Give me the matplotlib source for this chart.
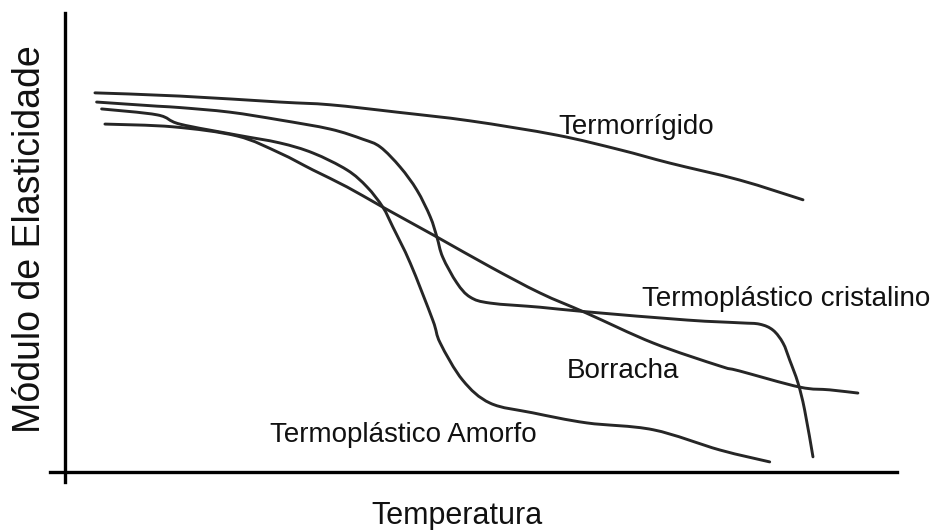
import matplotlib
matplotlib.use("Agg")
import matplotlib.pyplot as plt
from matplotlib.path import Path
from matplotlib.patches import PathPatch
import numpy as np

plt.rcParams['font.family'] = ['Liberation Sans', 'DejaVu Sans']

# Arbitrary units (0-100) for temperature (x) and modulus (y)
termorrigido_x = [3.6, 13.8, 25.8, 31.9, 39.9, 48.7, 59.1, 66.7, 72.7, 81.1, 88.7]
termorrigido_y = [82.6, 81.9, 80.6, 80.0, 78.4, 76.5, 73.4, 70.2, 67.3, 63.6, 59.3]

cristalino_x = [3.8, 11.1, 13.8, 19.8, 25.8, 31.9, 35.8, 37.9, 40.3, 42.3, 43.9, 44.7, 45.4,
                47.1, 48.7, 51.1, 57.1, 62.7, 74.8, 81.1, 83.5, 85.1, 86.3, 87.1, 88.1, 88.9, 89.9]
cristalino_y = [80.6, 79.7, 79.4, 78.4, 76.7, 74.7, 72.5, 70.8, 66.4, 61.4, 55.6, 51.2, 46.8,
                41.2, 38.1, 36.8, 35.9, 34.9, 33.1, 32.5, 32.2, 30.9, 28.1, 24.4, 19.4, 13.5, 3.3]

amorfo_x = [4.4, 11.1, 13.8, 20.7, 25.8, 29.8, 33.9, 36.3, 38.2, 39.4, 41.5, 44.2, 45.1,
            47.8, 51.1, 56.2, 62.7, 70.7, 78.7, 84.7]
amorfo_y = [79.1, 77.8, 75.8, 73.4, 71.7, 69.5, 65.8, 62.1, 57.7, 53.4, 45.5, 33.1, 28.1,
            20.0, 15.0, 12.9, 10.7, 9.2, 4.8, 2.2]

borracha_x = [4.8, 13.0, 20.7, 25.8, 29.8, 33.9, 38.2, 44.7, 51.1, 57.1, 62.7, 70.7, 78.7,
              81.1, 88.3, 91.9, 95.3]
borracha_y = [75.8, 75.2, 73.2, 69.5, 65.8, 62.1, 57.7, 51.2, 44.7, 39.0, 34.6, 28.1, 23.1,
              22.0, 18.5, 17.9, 17.2]

labels = ["Termorrígido", "Termoplástico cristalino", "Borracha", "Termoplástico Amorfo"]
label_x = [59.3, 69.4, 60.3, 24.6]
label_y = [73.6, 36.2, 20.5, 6.5]

x_label = "Temperatura"
y_label = "Módulo de Elasticidade"


def smooth_path(xs, ys):
    """Catmull-Rom spline through the points, as cubic Bezier path."""
    p = np.column_stack([xs, ys]).astype(float)
    n = len(p)
    verts = [p[0]]
    codes = [Path.MOVETO]
    for i in range(n - 1):
        p0 = p[i - 1] if i > 0 else p[i]
        p1 = p[i]
        p2 = p[i + 1]
        p3 = p[i + 2] if i + 2 < n else p[i + 1]
        c1 = p1 + (p2 - p0) / 6.0
        c2 = p2 - (p3 - p1) / 6.0
        verts += [c1, c2, p2]
        codes += [Path.CURVE4] * 3
    return Path(verts, codes)


fig = plt.figure(figsize=(9.4, 5.3), dpi=100)
ax = fig.add_axes([65/940, 58/530, 832/940, 459/530])
ax.set_xlim(0, 100)
ax.set_ylim(0, 100)

line_color = '#262626'
for xs, ys in [(termorrigido_x, termorrigido_y), (cristalino_x, cristalino_y),
               (amorfo_x, amorfo_y), (borracha_x, borracha_y)]:
    patch = PathPatch(smooth_path(xs, ys), facecolor='none', edgecolor=line_color,
                      lw=2.1, capstyle='round', joinstyle='round')
    ax.add_patch(patch)

for t, x, y in zip(labels, label_x, label_y):
    ax.text(x, y, t, fontsize=20, ha='left', va='baseline', color='#111111')

for s in ['top', 'right']:
    ax.spines[s].set_visible(False)
ax.spines['left'].set_linewidth(2.4)
ax.spines['bottom'].set_linewidth(2.4)
ax.spines['left'].set_color('black')
ax.spines['bottom'].set_color('black')
ax.spines['left'].set_bounds(-2.2, 100)
ax.spines['bottom'].set_bounds(-1.8, 100)
ax.set_xticks([])
ax.set_yticks([])
ax.patch.set_alpha(0)

fig.text(457/940, 6/530, x_label, fontsize=22, ha='center', va='baseline', color='#111111')
fig.text(30/940, (530-239)/530, y_label, fontsize=27, rotation=90, ha='center', va='center', color='#111111')

fig.savefig("out.png", dpi=100)
